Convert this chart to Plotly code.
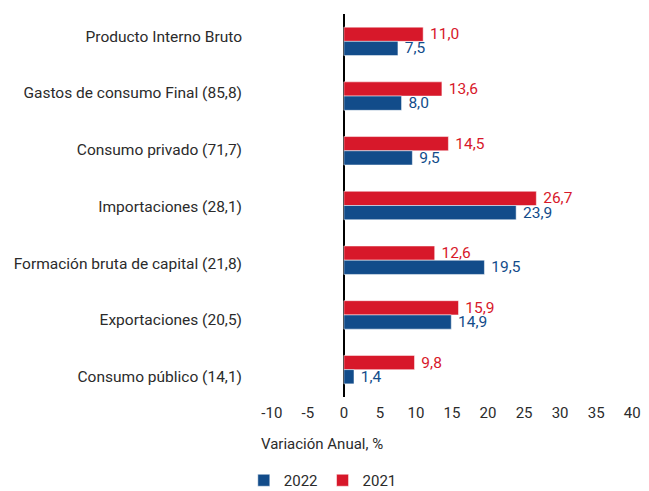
import plotly.graph_objects as go

categories = [
    "Producto Interno Bruto",
    "Gastos de consumo Final (85,8)",
    "Consumo privado (71,7)",
    "Importaciones (28,1)",
    "Formación bruta de capital (21,8)",
    "Exportaciones (20,5)",
    "Consumo público (14,1)",
]
values_2021 = [11.0, 13.6, 14.5, 26.7, 12.6, 15.9, 9.8]
values_2022 = [7.5, 8.0, 9.5, 23.9, 19.5, 14.9, 1.4]
x_ticks = [-10, -5, 0, 5, 10, 15, 20, 25, 30, 35, 40]
x_tick_labels = ["-10", "-5", "0", "5", "10", "15", "20", "25", "30", "35", "40"]

RED = "#D7182A"
BLUE = "#124C8A"
FONT = "Roboto"
TXT = "#2b2b2b"

fig = go.Figure()
fig.add_trace(go.Bar(
    y=categories, x=values_2021, name="2021", orientation="h",
    marker=dict(color=RED, line=dict(color="white", width=0.5)),
    texttemplate=" %{x:.1f}", textposition="outside", cliponaxis=False,
    constraintext="none",
    textfont=dict(color=RED, size=15.5, family=FONT), legendrank=2,
))
fig.add_trace(go.Bar(
    y=categories, x=values_2022, name="2022", orientation="h",
    marker=dict(color=BLUE, line=dict(color="white", width=0.5)),
    texttemplate=" %{x:.1f}", textposition="outside", cliponaxis=False,
    constraintext="none",
    textfont=dict(color=BLUE, size=15.5, family=FONT), legendrank=1,
))
# invisible trace carrying the category labels on a second (label) axis
fig.add_trace(go.Scatter(
    y=categories, x=[0] * len(categories), yaxis="y2", mode="markers",
    marker=dict(opacity=0), showlegend=False, hoverinfo="skip",
))

fig.update_layout(
    width=649, height=491,
    margin=dict(l=261, r=6, t=14, b=94, autoexpand=False),
    paper_bgcolor="white", plot_bgcolor="white",
    separators=",.",
    barmode="group", bargap=0.48, bargroupgap=0,
    font=dict(family=FONT, size=15, color=TXT),
    showlegend=True,
    legend=dict(orientation="h", x=-0.045, xanchor="left", y=-0.218, yanchor="middle",
                font=dict(size=15, color=TXT), traceorder="normal",
                itemwidth=30, tracegroupgap=0),
    xaxis=dict(range=[-11.5, 41.5], tickvals=x_ticks, ticktext=x_tick_labels,
               showgrid=False, automargin=False, ticklabelstandoff=5,
               zeroline=True, zerolinecolor="black", zerolinewidth=1.5,
               showline=False, ticks="", tickfont=dict(size=15, color=TXT)),
    yaxis=dict(type="category", categoryarray=categories, range=[6.5, -0.5],
               showgrid=False, zeroline=False, showline=False,
               automargin=False, showticklabels=False, ticks=""),
    yaxis2=dict(type="category", categoryarray=categories, range=[6.36, -0.39],
                overlaying="y", side="left", showgrid=False, zeroline=False,
                showline=False, automargin=False, ticks="", ticklabelstandoff=18,
                tickfont=dict(size=15.5, color=TXT)),
    annotations=[dict(text="Variación Anual, %", xref="paper", yref="paper",
                      x=-0.004, y=-0.122, xanchor="left", yanchor="middle",
                      showarrow=False, font=dict(size=15, color=TXT))],
)

fig.write_html("out.html", config={"displayModeBar": False},
               post_script="document.body.style.margin='0';document.body.style.overflow='hidden';")
